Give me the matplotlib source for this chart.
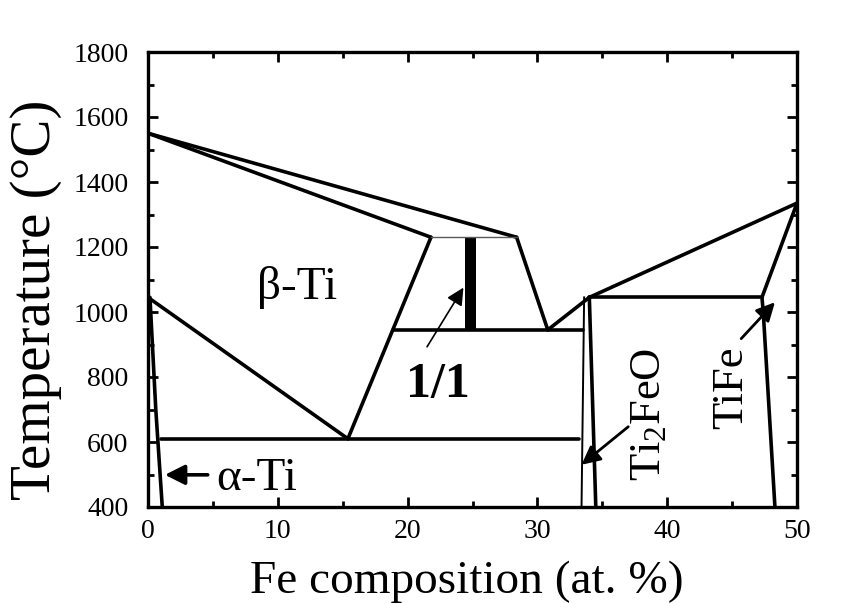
import matplotlib
matplotlib.use("Agg")
import matplotlib.pyplot as plt
from matplotlib.ticker import MultipleLocator

plt.rcParams['font.family'] = ['Liberation Serif', 'DejaVu Serif']
plt.rcParams['mathtext.fontset'] = 'custom'
plt.rcParams['mathtext.rm'] = 'Liberation Serif'
plt.rcParams['mathtext.it'] = 'Liberation Serif:italic'
plt.rcParams['mathtext.bf'] = 'Liberation Serif:bold'

# ---- phase boundaries (Fe at.%, temperature in °C) ----
liq_beta_x = [0.0, 28.4]
liq_beta_T = [1550, 1230]
sol_beta_x = [0.0, 21.8]
sol_beta_T = [1550, 1230]
peritectic_x = [21.8, 28.4]
peritectic_T = [1230, 1230]
beta_11_x = [21.8, 15.4]
beta_11_T = [1230, 610]
liq_11_x = [28.4, 30.8]
liq_11_T = [1230, 945]
beta_transus_x = [0.0, 15.4]
beta_transus_T = [1045, 610]
alpha_solvus_x = [0.15, 0.6, 1.1]
alpha_solvus_T = [1045, 700, 400]
eutectoid_x = [1.0, 33.2]
eutectoid_T = [610, 610]
eutectic_x = [18.85, 33.5]
eutectic_T = [945, 945]
liq_right_x = [30.8, 34.0, 50.0]
liq_right_T = [945, 1045, 1335]
tife_eut_x = [34.0, 47.3]
tife_eut_T = [1045, 1045]
tife_x = [50.0, 47.3, 47.4, 47.7, 48.0, 48.3]
tife_T = [1335, 1045, 1000, 800, 600, 400]
ti2feo_left_x = [33.6, 33.4]
ti2feo_left_T = [1045, 400]
ti2feo_right_x = [34.0, 34.5]
ti2feo_right_T = [1045, 400]
bar_x = [24.4, 25.3]
bar_T = [945, 1230]

phase_labels = ["β-Ti", "α-Ti", "1/1", "Ti$_2$FeO", "TiFe"]
x_ticks = [0, 10, 20, 30, 40, 50]
y_ticks = [400, 600, 800, 1000, 1200, 1400, 1600, 1800]

W, H = 846, 603
fig = plt.figure(figsize=(W / 100, H / 100), dpi=100)
ax = fig.add_axes([148 / W, (H - 507) / H, (797 - 148) / W, (507 - 52) / H])

lw = 2.6
k = 'black'
for xs, ts in [(liq_beta_x, liq_beta_T), (sol_beta_x, sol_beta_T),
               (beta_11_x, beta_11_T), (liq_11_x, liq_11_T),
               (beta_transus_x, beta_transus_T), (alpha_solvus_x, alpha_solvus_T),
               (eutectoid_x, eutectoid_T), (eutectic_x, eutectic_T),
               (liq_right_x, liq_right_T), (tife_eut_x, tife_eut_T),
               (tife_x, tife_T), (ti2feo_right_x, ti2feo_right_T)]:
    ax.plot(xs, ts, color=k, lw=lw, solid_capstyle='round', solid_joinstyle='round')
ax.plot(peritectic_x, peritectic_T, color='0.35', lw=1.0)
ax.plot(ti2feo_left_x, ti2feo_left_T, color=k, lw=1.4)
ax.fill_betweenx(bar_T, bar_x[0], bar_x[1], color=k, lw=0)

# labels
ax.text(11.5, 1041, phase_labels[0], fontsize=34, ha='center', va='baseline')
ax.text(8.4, 452, phase_labels[1], fontsize=34, ha='center', va='baseline')
ax.text(22.3, 739, phase_labels[2], fontsize=36, fontweight='bold', ha='center', va='baseline')
ax.text(38.6, 684, phase_labels[3], fontsize=32, rotation=90, ha='center', va='center')
ax.text(44.9, 767, phase_labels[4], fontsize=32, rotation=90, ha='center', va='center')

# arrows
ax.annotate('', xy=(1.3, 499), xytext=(4.6, 499),
            arrowprops=dict(arrowstyle='-|>', color=k, lw=2.6, mutation_scale=30, shrinkA=0, shrinkB=0))
ax.annotate('', xy=(24.3, 1075), xytext=(21.5, 893),
            arrowprops=dict(arrowstyle='-|>', color=k, lw=1.2, mutation_scale=26, shrinkA=0, shrinkB=0))
ax.annotate('', xy=(33.4, 530), xytext=(37.0, 647),
            arrowprops=dict(arrowstyle='-|>', color=k, lw=2.0, mutation_scale=28, shrinkA=0, shrinkB=0))
ax.annotate('', xy=(48.3, 1030), xytext=(45.7, 918),
            arrowprops=dict(arrowstyle='-|>', color=k, lw=2.0, mutation_scale=28, shrinkA=0, shrinkB=0))

ax.set_xlim(0, 50)
ax.set_ylim(400, 1800)
ax.set_xticks(x_ticks)
ax.set_yticks(y_ticks)
ax.xaxis.set_minor_locator(MultipleLocator(5))
ax.yaxis.set_minor_locator(MultipleLocator(100))
ax.tick_params(which='both', direction='in', top=True, right=True, width=2.0, labelsize=20)
ax.tick_params(which='major', length=7)
ax.tick_params(which='minor', length=4)
ax.tick_params(axis='y', pad=14)
ax.tick_params(axis='x', pad=9)
for s in ax.spines.values():
    s.set_linewidth(2.4)

ax.set_xlabel("Fe composition (at. %)", fontsize=34)
ax.set_ylabel("Temperature (°C)", fontsize=41)
ax.xaxis.set_label_coords((467 - 148) / 649, -(593 - 507) / 455, transform=ax.transAxes)
ax.xaxis.label.set_va('baseline')
ax.yaxis.set_label_coords(-(148 - 36) / 649, (507 - 300) / 455, transform=ax.transAxes)
ax.yaxis.label.set_va('center')

fig.savefig("out.png", dpi=100)
